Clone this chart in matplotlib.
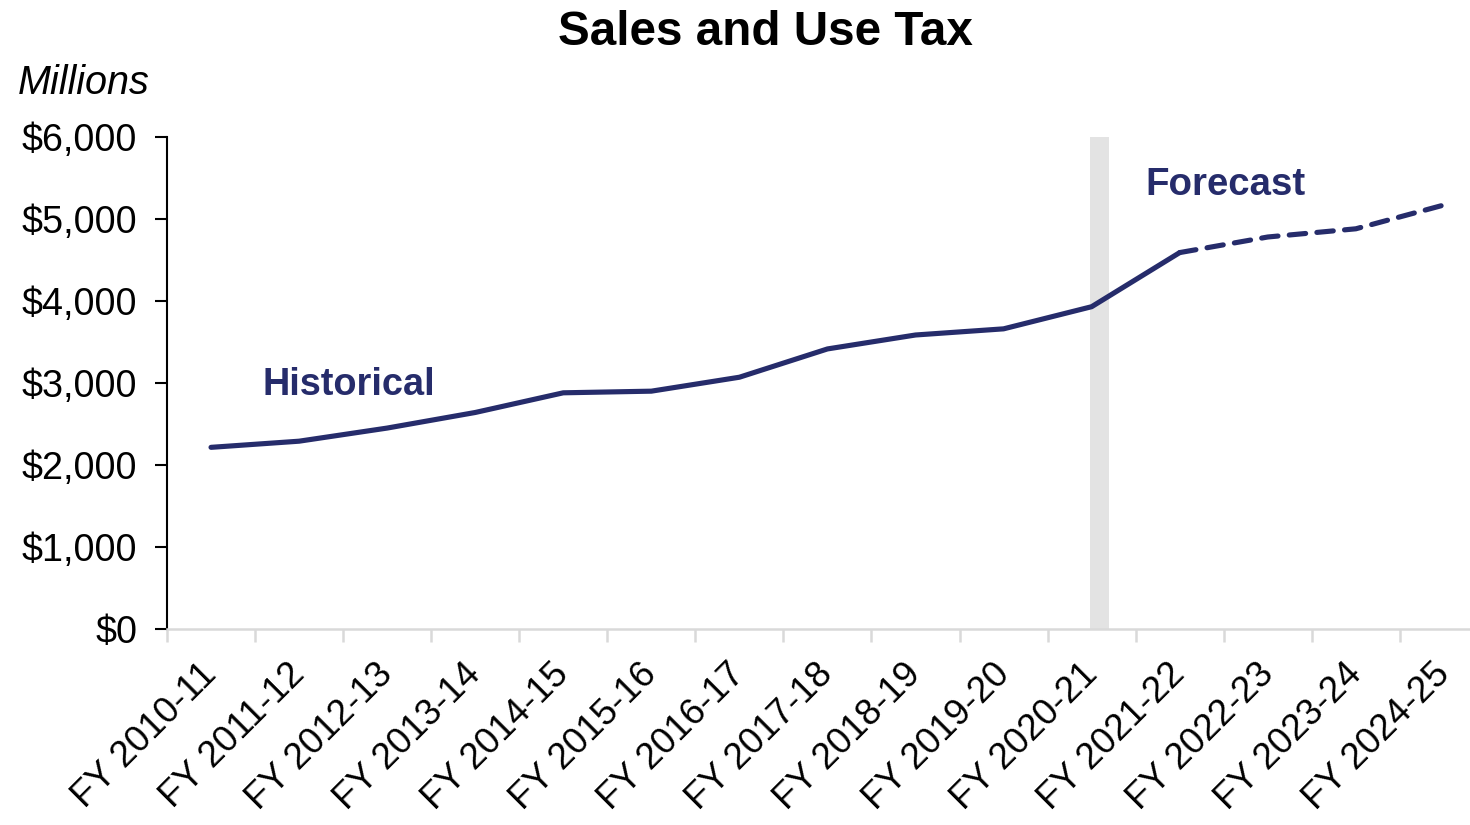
import matplotlib.pyplot as plt
from matplotlib.ticker import FuncFormatter
from matplotlib.transforms import ScaledTranslation

plt.rcParams['font.family'] = ['Liberation Sans', 'DejaVu Sans']

# Ingresos por impuesto sobre ventas y uso (millones de dólares)
years = ['FY 2010-11', 'FY 2011-12', 'FY 2012-13', 'FY 2013-14', 'FY 2014-15',
         'FY 2015-16', 'FY 2016-17', 'FY 2017-18', 'FY 2018-19', 'FY 2019-20',
         'FY 2020-21', 'FY 2021-22', 'FY 2022-23', 'FY 2023-24', 'FY 2024-25']
historical = [2215, 2290, 2450, 2640, 2880, 2900, 3070, 3415, 3585, 3660, 3930, 4590]
forecast = [4590, 4780, 4880, 5170]  # empieza en FY 2021-22

navy = '#262c6b'

fig = plt.figure(figsize=(14.7, 8.25), dpi=100)
ax = fig.add_axes([0.1136, 0.2376, 0.8986, 0.5964])

x_hist = list(range(len(historical)))
x_fc = list(range(len(historical) - 1, len(historical) - 1 + len(forecast)))

ax.axvspan(9.98, 10.2, color='#e3e3e3', zorder=0, lw=0)
ax.plot(x_hist, historical, color=navy, lw=3.7, solid_capstyle='round', zorder=3)
ax.plot(x_fc, forecast, color=navy, lw=3.7, dashes=(3.2, 2.2),
        dash_capstyle='round', zorder=3)

ax.set_xlim(-0.5, len(years) - 0.5)
ax.set_ylim(0, 6000)
ax.set_yticks(range(0, 6001, 1000))
ax.yaxis.set_major_formatter(FuncFormatter(lambda v, p: '${:,.0f}'.format(v)))

ax.set_xticks(range(len(years)))
ax.set_xticklabels(years, rotation=45, ha='right', rotation_mode='anchor')
ax.set_xticks([i - 0.5 for i in range(len(years) + 1)], minor=True)
ax.tick_params(axis='x', which='major', length=0, labelsize=26.5, pad=14)
ax.tick_params(axis='x', which='minor', length=9, width=1.8, color='#d9d9d9')
ax.tick_params(axis='y', length=9, width=1.5, labelsize=27.2, pad=12.5)

# desplazar etiquetas del eje x un poco a la izquierda y abajo
shift = ScaledTranslation(-12 / 100, -8 / 100, fig.dpi_scale_trans)
for lab in ax.get_xticklabels():
    lab.set_transform(lab.get_transform() + shift)

for s in ['top', 'right']:
    ax.spines[s].set_visible(False)
ax.spines['left'].set_linewidth(1.5)
ax.spines['bottom'].set_color('#d9d9d9')
ax.spines['bottom'].set_linewidth(1.8)

ax.text(0.59, 2980, 'Historical', color=navy, fontsize=27.3, fontweight='bold', va='center')
ax.text(10.61, 5420, 'Forecast', color=navy, fontsize=27.6, fontweight='bold', va='center')

fig.text(0.521, 0.961, 'Sales and Use Tax', fontsize=34.3, fontweight='bold',
         ha='center', va='center')
fig.text(0.012, 0.9, 'Millions', fontsize=28.5, style='italic', va='center')

plt.savefig('out.png', dpi=100)
